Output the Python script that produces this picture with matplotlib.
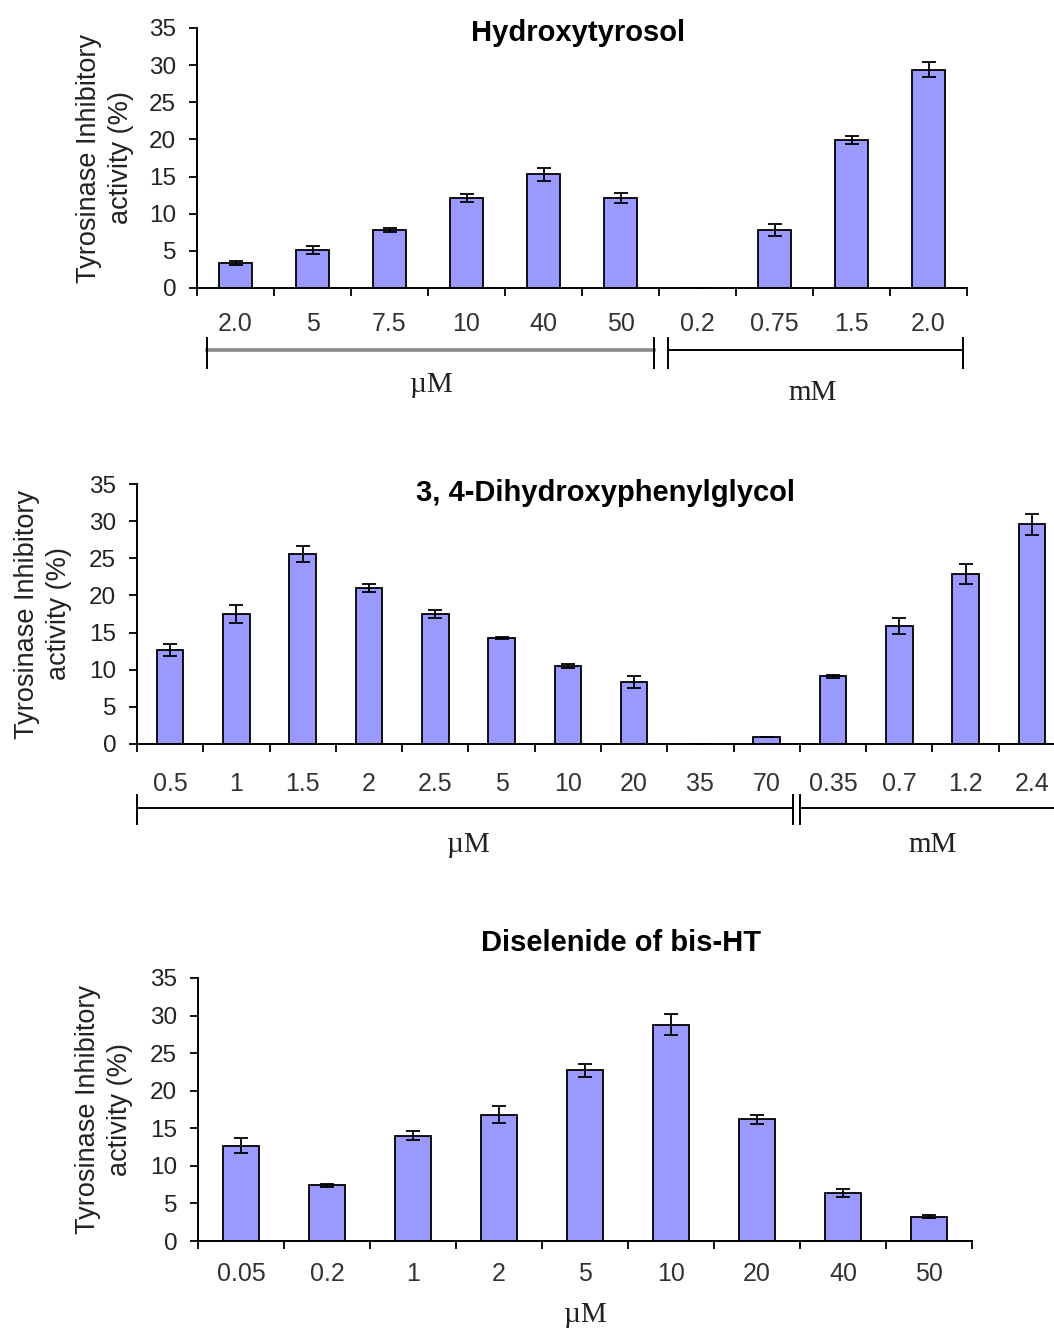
import numpy as np
import matplotlib
matplotlib.use("Agg")
import matplotlib.pyplot as plt
from matplotlib.transforms import blended_transform_factory

plt.rcParams['font.family'] = ['Liberation Sans', 'DejaVu Sans']

# ---- data ----
ht_labels = ["2.0", "5", "7.5", "10", "40", "50", "0.2", "0.75", "1.5", "2.0"]
ht_values = [3.4, 5.1, 7.8, 12.1, 15.3, 12.1, 0.0, 7.8, 19.9, 29.4]
ht_errors = [0.3, 0.5, 0.25, 0.5, 0.85, 0.7, 0.0, 0.85, 0.5, 1.0]

dhpg_labels = ["0.5", "1", "1.5", "2", "2.5", "5", "10", "20", "35", "70",
               "0.35", "0.7", "1.2", "2.4"]
dhpg_values = [12.6, 17.5, 25.6, 21.0, 17.5, 14.3, 10.5, 8.3, 0.0, 1.0,
               9.1, 15.9, 22.9, 29.6]
dhpg_errors = [0.8, 1.2, 1.1, 0.6, 0.6, 0.15, 0.3, 0.8, 0.0, 0.0,
               0.2, 1.1, 1.3, 1.4]

se_labels = ["0.05", "0.2", "1", "2", "5", "10", "20", "40", "50"]
se_values = [12.7, 7.4, 14.0, 16.8, 22.7, 28.8, 16.2, 6.4, 3.2]
se_errors = [1.0, 0.15, 0.6, 1.1, 0.9, 1.4, 0.6, 0.5, 0.2]

ylabel = "Tyrosinase Inhibitory\nactivity (%)"
bar_color = "#9999ff"

fig = plt.figure(figsize=(10.54, 13.28), dpi=100)


def panel(rect, labels, values, errors, width, title, title_xy, ylab_x, xpad):
    ax = fig.add_axes(rect)
    x = np.arange(len(labels))
    ax.bar(x, values, width, yerr=errors, color=bar_color, edgecolor="black",
           linewidth=1.3,
           error_kw=dict(ecolor="black", elinewidth=1.3, capsize=5, capthick=1.3))
    ax.set_xlim(-0.5, len(labels) - 0.5)
    ax.set_ylim(0, 35)
    ax.set_yticks(np.arange(0, 36, 5))
    ax.set_xticks(x)
    ax.set_xticklabels(labels, fontsize=18, color="#333333")
    ax.set_xticks(np.arange(-0.5, len(labels), 1.0), minor=True)
    ax.tick_params(axis="x", which="major", length=0, pad=xpad)
    ax.tick_params(axis="x", which="minor", length=6, width=1.3, direction="out")
    ax.tick_params(axis="y", length=6, width=1.3, pad=9, labelsize=17.5,
                   labelcolor="#222222")
    for s in ("top", "right"):
        ax.spines[s].set_visible(False)
    for s in ("left", "bottom"):
        ax.spines[s].set_linewidth(1.4)
    ax.set_ylabel(ylabel, fontsize=19.5, color="#222222", va="center", ha="center",
                  linespacing=1.3)
    ax.yaxis.set_label_coords(ylab_x, 0.5)
    ax.text(title_xy[0], title_xy[1], title, transform=ax.transAxes,
            fontsize=21, fontweight="bold", ha="center", va="center")
    return ax


def bracket(ax, x0, x1, y, cap, color="black", lw=1.4, caps=(True, True)):
    tr = blended_transform_factory(ax.transData, ax.transAxes)
    ax.plot([x0, x1], [y, y], color=color, lw=lw, transform=tr, clip_on=False)
    for xc, on in zip((x0, x1), caps):
        if on:
            ax.plot([xc, xc], [y + cap[0], y - cap[1]], color="black", lw=1.4,
                    transform=tr, clip_on=False)


def unit(ax, x, y, s):
    tr = blended_transform_factory(ax.transData, ax.transAxes)
    ax.text(x, y, s, transform=tr, fontsize=21, ha="center", va="center",
            family=["Liberation Serif", "DejaVu Serif"], color="#222222")


W, H = 1054.0, 1328.0

# panel 1: Hydroxytyrosol
ax1 = panel([197 / W, (H - 288) / H, 770 / W, 260 / H], ht_labels, ht_values,
            ht_errors, 0.43, "Hydroxytyrosol", (0.495, 0.98), -0.119, 17)
bracket(ax1, -0.37, 5.43, -0.238, (0.046, 0.07), color="#888888", lw=2.6)
bracket(ax1, 5.62, 9.45, -0.238, (0.046, 0.07))
unit(ax1, 2.55, -0.373, "\u00b5M")
unit(ax1, 7.5, -0.404, "mM")

# panel 2: 3, 4-Dihydroxyphenylglycol
ax2 = panel([137 / W, (H - 744) / H, 928 / W, 260 / H], dhpg_labels, dhpg_values,
            dhpg_errors, 0.4, "3, 4-Dihydroxyphenylglycol", (0.505, 0.965), -0.101, 20)
bracket(ax2, -0.5, 9.39, -0.246, (0.05, 0.06))
bracket(ax2, 9.5, 14.0, -0.246, (0.05, 0.06), caps=(True, False))
unit(ax2, 4.5, -0.39, "\u00b5M")
unit(ax2, 11.5, -0.39, "mM")

# panel 3: Diselenide of bis-HT
ax3 = panel([198 / W, (H - 1241) / H, 774 / W, 263 / H], se_labels, se_values,
            se_errors, 0.41, "Diselenide of bis-HT", (0.547, 1.133), -0.121, 15)
unit(ax3, 4.0, -0.28, "\u00b5M")

fig.savefig("out.png", dpi=100)
